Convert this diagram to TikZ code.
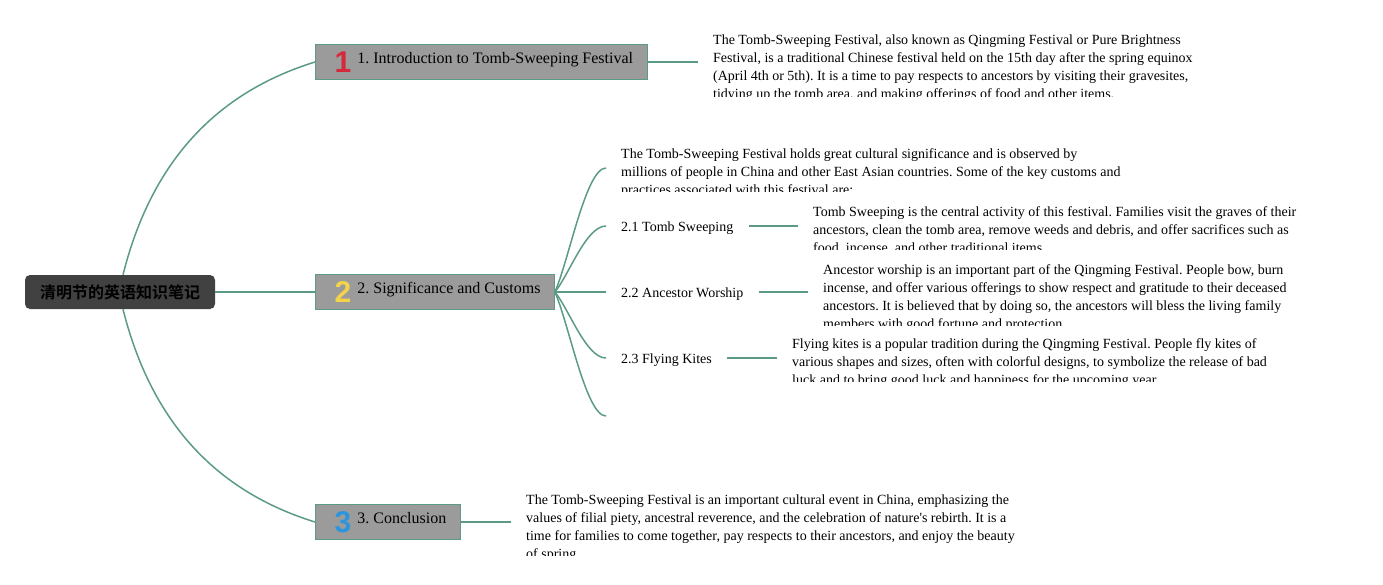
\documentclass[tikz,border=0pt]{standalone}
\usepackage{fontspec}
\setmainfont{Liberation Serif}
\newfontfamily\cjkb{Noto Sans CJK SC Bold}
\newfontfamily\iconf{Liberation Sans}
\definecolor{linec}{HTML}{5B9B83}
\definecolor{boxc}{HTML}{9B9B9B}
\definecolor{rootc}{HTML}{414141}
\definecolor{iconred}{HTML}{D42A3C}
\definecolor{iconyellow}{HTML}{F2D34A}
\definecolor{iconblue}{HTML}{2B96DE}
\newcommand{\topicicon}[2]{\hspace*{5pt}\makebox[17pt]{\raisebox{-8.5pt}{\iconf\bfseries\fontsize{30}{30}\selectfont\color{#1}#2}}\hspace{6pt}}
\newcommand{\firstln}{\rule{0pt}{13pt}}
\frenchspacing
\begin{document}
\begin{tikzpicture}[x=1pt,y=-1pt,
  conn/.style={draw=linec, line width=1.5pt},
  rootbox/.style={fill=rootc, rounded corners=5pt, inner xsep=15pt, minimum height=34pt, font=\fontsize{16}{19}\selectfont},
  topic/.style={draw=linec, line width=0.8pt, fill=boxc, inner xsep=14pt, inner ysep=6pt, minimum height=35pt, anchor=west, font=\fontsize{16}{19}\selectfont\frenchspacing},
  sub/.style={inner xsep=15pt, inner ysep=3pt, text height=12pt, text depth=1pt, anchor=west, font=\fontsize{14}{18}\selectfont},
  desc/.style={inner xsep=15pt, inner ysep=0pt, anchor=north west, align=left, font=\fontsize{14}{18}\selectfont\frenchspacing},
]
\useasboundingbox (0,0) rectangle (1383,584);

% root and main topics
\node[rootbox] (root) at (120,292) {\cjkb 清明节的英语知识笔记};
\node[topic] (t1) at (315,62) {\topicicon{iconred}{1}1. Introduction to Tomb-Sweeping Festival};
\node[topic] (t2) at (315,292) {\topicicon{iconyellow}{2}2. Significance and Customs};
\node[topic] (t3) at (315,522) {\topicicon{iconblue}{3}3. Conclusion};

% subtopics
\node[sub] (s1) at (606,226) {2.1 Tomb Sweeping};
\node[sub] (s2) at (606,292) {2.2 Ancestor Worship};
\node[sub] (s3) at (606,358) {2.3 Flying Kites};
\coordinate (s4) at (606,416);

% descriptions (clipped)
\begin{scope}
\clip (698,20) rectangle (1383,96);
\node[desc] (d1) at (698,31.5) {\firstln The Tomb-Sweeping Festival, also known as Qingming Festival or Pure Brightness\\
Festival, is a traditional Chinese festival held on the 15th day after the spring equinox\\
(April 4th or 5th). It is a time to pay respects to ancestors by visiting their gravesites,\\
tidying up the tomb area, and making offerings of food and other items.};
\end{scope}
\begin{scope}
\clip (606,130) rectangle (1383,191);
\node[desc] (d2) at (606,145.5) {\firstln The Tomb-Sweeping Festival holds great cultural significance and is observed by\\
millions of people in China and other East Asian countries. Some of the key customs and\\
practices associated with this festival are:};
\end{scope}
\begin{scope}
\clip (798,195) rectangle (1383,249.5);
\node[desc] (d21) at (798,203.5) {\firstln Tomb Sweeping is the central activity of this festival. Families visit the graves of their\\
ancestors, clean the tomb area, remove weeds and debris, and offer sacrifices such as\\
food, incense, and other traditional items.};
\end{scope}
\begin{scope}
\clip (808,255) rectangle (1383,325.5);
\node[desc] (d22) at (808,261.5) {\firstln Ancestor worship is an important part of the Qingming Festival. People bow, burn\\
incense, and offer various offerings to show respect and gratitude to their deceased\\
ancestors. It is believed that by doing so, the ancestors will bless the living family\\
members with good fortune and protection.};
\end{scope}
\begin{scope}
\clip (777,330) rectangle (1383,381.5);
\node[desc] (d23) at (777,335.5) {\firstln Flying kites is a popular tradition during the Qingming Festival. People fly kites of\\
various shapes and sizes, often with colorful designs, to symbolize the release of bad\\
luck and to bring good luck and happiness for the upcoming year.};
\end{scope}
\begin{scope}
\clip (511,485) rectangle (1383,555.5);
\node[desc] (d3) at (511,491.5) {\firstln The Tomb-Sweeping Festival is an important cultural event in China, emphasizing the\\
values of filial piety, ancestral reverence, and the celebration of nature\textquotesingle s rebirth. It is a\\
time for families to come together, pay respects to their ancestors, and enjoy the beauty\\
of spring.};
\end{scope}

% connectors
\draw[conn] (root.east) -- (t2.west);
\draw[conn] ([xshift=3pt]root.north) .. controls (151,163) and (215,93) .. (t1.west);
\draw[conn] ([xshift=3pt]root.south) .. controls (151,421) and (215,491) .. (t3.west);
\draw[conn] (t1.east) -- (t1.east -| d1.west);
\draw[conn] (t3.east) -- (t3.east -| d3.west);
\draw[conn] (t2.east) .. controls (569,260) and (586,168) .. ([yshift=-22.5pt]d2.north west);
\draw[conn] (t2.east) .. controls (569,275) and (586,226) .. (s1.west);
\draw[conn] (t2.east) -- (s2.west);
\draw[conn] (t2.east) .. controls (569,309) and (586,358) .. (s3.west);
\draw[conn] (t2.east) .. controls (569,324) and (586,416) .. (s4);
\draw[conn] (s1.east) -- (s1.east -| d21.west);
\draw[conn] (s2.east) -- (s2.east -| d22.west);
\draw[conn] (s3.east) -- (s3.east -| d23.west);
\end{tikzpicture}
\end{document}
